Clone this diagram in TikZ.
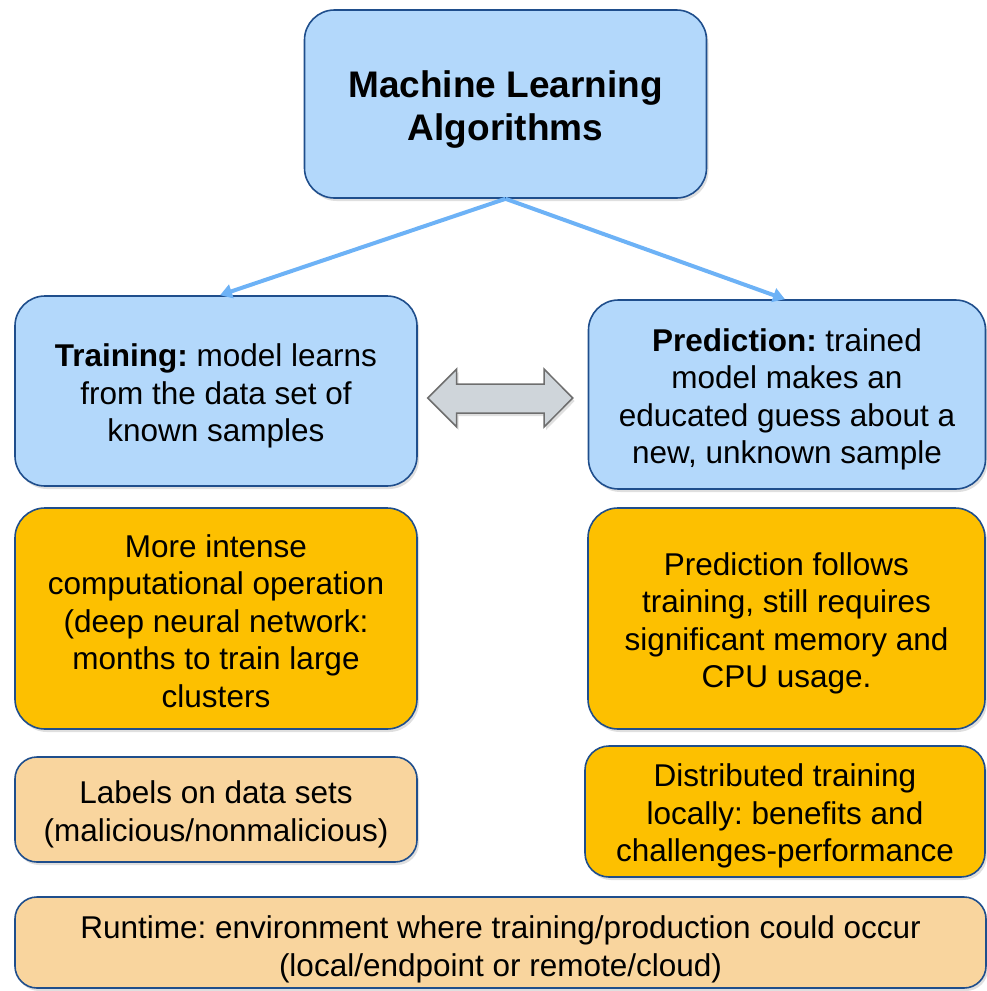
\documentclass[tikz,border=0pt]{standalone}
\usepackage{fontspec}
\setmainfont{Liberation Sans}
\usetikzlibrary{shadows,arrows.meta}
\definecolor{lblue}{HTML}{B3D8FB}
\definecolor{bordr}{HTML}{1F4E8C}
\definecolor{gold}{HTML}{FDC000}
\definecolor{peach}{HTML}{F9D59E}
\definecolor{arrblue}{HTML}{6DB2F6}
\definecolor{arrgray}{HTML}{CFD5DA}
\definecolor{arredge}{HTML}{6E6E6E}
\tikzset{
  box/.style={draw=bordr, line width=1.6pt, rounded corners=30pt, inner sep=0pt,
    drop shadow={opacity=0.25, shadow xshift=2pt, shadow yshift=-3pt}},
  bluebox/.style={box, fill=lblue},
  goldbox/.style={box, fill=gold},
  peachbox/.style={box, fill=peach},
  txt/.style={align=center, inner sep=0pt, font=\fontsize{31.5}{37.5}\selectfont},
  link/.style={draw=arrblue, line width=4pt, -{Triangle[length=12pt,width=14pt]}}
}
\frenchspacing
\begin{document}
\begin{tikzpicture}[x=1pt,y=-1pt]
\useasboundingbox (0,0) rectangle (987,991);
\node[bluebox, minimum width=402pt, minimum height=188pt] (top) at (505.5,104) {};
\node[txt, font=\fontsize{37}{43}\selectfont\bfseries] (toptxt) at ([yshift=-6pt]top.center) {Machine Learning\\Algorithms};
\node[bluebox, minimum width=402pt, minimum height=190pt] (train) at (216,391) {};
\node[txt] (traintxt) at ([yshift=-5pt]train.center) {\textbf{Training:} model learns\\from the data set of\\known samples};
\node[bluebox, minimum width=397pt, minimum height=189pt] (pred) at (787,394.5) {};
\node[txt] (predtxt) at ([yshift=-5pt]pred.center) {\textbf{Prediction:} trained\\model makes an\\educated guess about a\\new, unknown sample};
\node[goldbox, minimum width=402pt, minimum height=221pt] (comp) at (216,618.5) {};
\node[txt] (comptxt) at ([yshift=-2.5pt]comp.center) {More intense\\computational operation\\(deep neural network:\\months to train large\\clusters};
\node[goldbox, minimum width=397pt, minimum height=221pt] (follow) at (786.5,618.5) {};
\node[txt] (followtxt) at ([yshift=-5pt]follow.center) {Prediction follows\\training, still requires\\significant memory and\\CPU usage.};
\node[peachbox, minimum width=402pt, minimum height=105pt, rounded corners=22pt] (labels) at (216,809.5) {};
\node[txt] (labelstxt) at ([yshift=-5pt]labels.center) {Labels on data sets\\(malicious/nonmalicious)};
\node[goldbox, minimum width=400pt, minimum height=131pt, rounded corners=24pt] (dist) at (785,811.5) {};
\node[txt] (disttxt) at ([yshift=-4.5pt]dist.center) {Distributed training\\locally: benefits and\\challenges-performance};
\node[peachbox, minimum width=971pt, minimum height=91pt, rounded corners=22pt] (runtime) at (500.5,942.5) {};
\node[txt] (runtimetxt) at ([yshift=-7pt]runtime.center) {Runtime: environment where training/production could occur\\(local/endpoint or remote/cloud)};
\draw[link] (top.south) -- ([xshift=4pt]train.north);
\draw[link] (top.south) -- ([xshift=-2pt]pred.north);
\draw[draw=arredge, fill=arrgray, line width=1.5pt, line join=miter,
  drop shadow={opacity=0.25, shadow xshift=2pt, shadow yshift=-3pt}]
  (427.7,398) -- (456.7,369) -- (456.7,384) -- (544,384) -- (544,369) -- (572.7,398)
  -- (544,427) -- (544,413) -- (456.7,413) -- (456.7,427) -- cycle;
\end{tikzpicture}
\end{document}
